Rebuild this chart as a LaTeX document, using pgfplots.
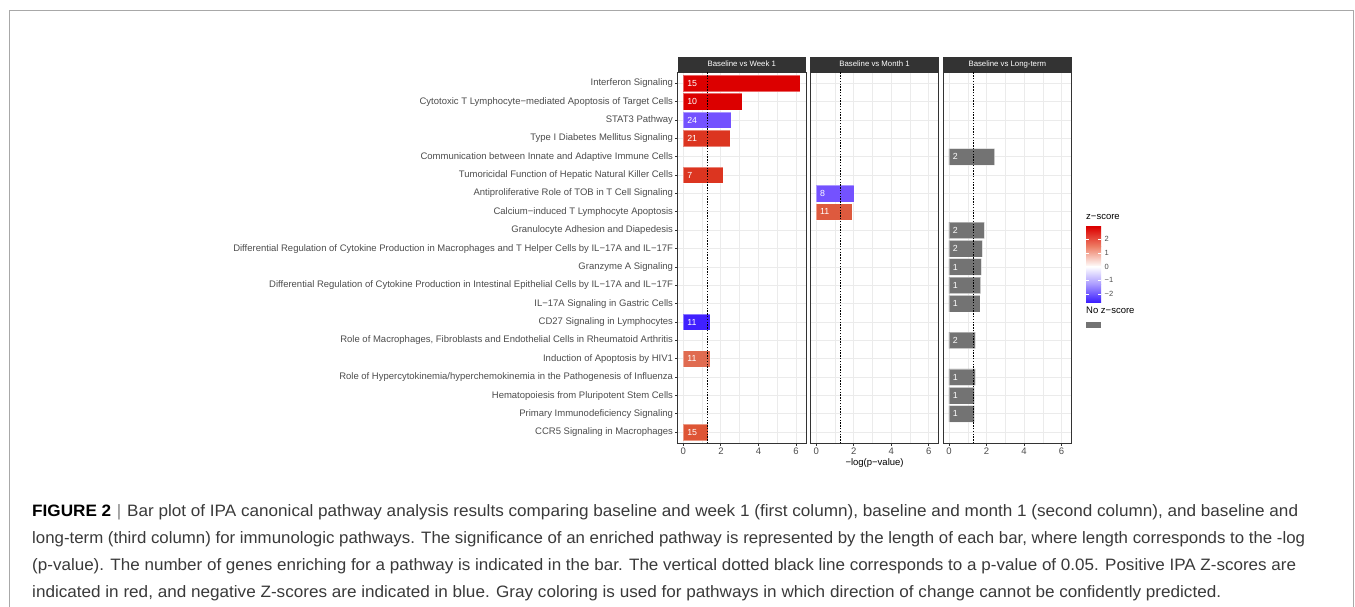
\documentclass[border=0pt]{standalone}
\usepackage{pgfplots}
\pgfplotsset{compat=1.18}
\usepackage{fontspec}
\setmainfont{Liberation Sans}
\newfontfamily\capfont{Liberation Sans}
\usepackage{graphicx}
\definecolor{g20}{HTML}{333333}
\definecolor{g30}{HTML}{4D4D4D}
\definecolor{g92}{HTML}{EBEBEB}
\definecolor{zr}{HTML}{DC0000}
\definecolor{zrb}{HTML}{DC3520}
\definecolor{zrc}{HTML}{DE5535}
\definecolor{zrd}{HTML}{DE5A3E}
\definecolor{zre}{HTML}{E06B50}
\definecolor{zb}{HTML}{4020FF}
\definecolor{zbb}{HTML}{7452FF}
\definecolor{nz}{HTML}{737373}
\definecolor{framec}{HTML}{A8A8A8}
\definecolor{captext}{HTML}{3A3A3A}
\newcommand{\axfont}{\fontsize{9.5}{10}\selectfont}
\pgfplotsset{
  panel/.style={
    scale only axis, width=128.5pt, height=371pt,
    xmin=-0.311, xmax=6.531, ymin=0.4, ymax=20.6,
    axis line style={draw=g20, line width=0.9pt},
    xtick={0,2,4,6}, minor xtick={1,3,5},
    ytick={1,...,20},
    grid=both,
    major grid style={draw=g92, line width=0.9pt},
    minor grid style={draw=g92, line width=0.45pt},
    tick align=outside, major tick length=2.4pt, minor tick length=0pt,
    tick style={draw=g20, line width=0.9pt},
    xtick pos=lower, ytick pos=left,
    tick label style={font=\axfont, text=g30},
    xticklabel style={inner sep=0pt, yshift=-1.9pt},
    yticklabel style={inner sep=0pt, xshift=-1.9pt},
    /pgf/number format/assume math mode=true,
    every axis title/.style={at={(0.5,1)}, anchor=south, fill=g20, text=white, minimum width=128.5pt, minimum height=15pt, inner sep=0pt, text height=5.8pt, text depth=1.5pt, font=\fontsize{7.8}{8}\selectfont},
  },
  bar/.style={xbar, bar shift=0pt, bar width=16.5pt, fill=#1, draw=white, draw opacity=0.4, line width=0.5pt},
  lab/.style={draw=none, mark=none, nodes near coords, point meta=explicit symbolic, every node near coord/.append style={anchor=west, inner sep=0pt, text=white, font=\fontsize{8.8}{9}\selectfont}},
  pline/.style={black, line width=0.8pt, dash pattern=on 1.4pt off 1.4pt},
}
\begin{document}
\begin{tikzpicture}
\useasboundingbox (0,0) rectangle (1355pt,-606pt);
\fill[white] (0,0) rectangle (1355pt,-606pt);
\draw[framec, line width=1pt] (9pt,-620pt) -- (9pt,-10.3pt) -- (1353.7pt,-10.3pt) -- (1353.7pt,-620pt);

% Panel 1
\begin{axis}[panel, at={(677.5pt,-443.3pt)}, anchor=south west,
  title={Baseline vs Week 1},
  yticklabels={
    {CCR5 Signaling in Macrophages},
    {Primary Immunodeficiency Signaling},
    {Hematopoiesis from Pluripotent Stem Cells},
    {Role of Hypercytokinemia/hyperchemokinemia in the Pathogenesis of Influenza},
    {Induction of Apoptosis by HIV1},
    {Role of Macrophages, Fibroblasts and Endothelial Cells in Rheumatoid Arthritis},
    {CD27 Signaling in Lymphocytes},
    {IL−17A Signaling in Gastric Cells\hspace{3.5pt}},
    {Differential Regulation of Cytokine Production in Intestinal Epithelial Cells by IL−17A and IL−17F\hspace{3.5pt}},
    {Granzyme A Signaling},
    {Differential Regulation of Cytokine Production in Macrophages and T Helper Cells by IL−17A and IL−17F\hspace{3.5pt}},
    {Granulocyte Adhesion and Diapedesis},
    {Calcium−induced T Lymphocyte Apoptosis},
    {Antiproliferative Role of TOB in T Cell Signaling},
    {Tumoricidal Function of Hepatic Natural Killer Cells},
    {Communication between Innate and Adaptive Immune Cells},
    {Type I Diabetes Mellitus Signaling},
    {STAT3 Pathway},
    {Cytotoxic T Lymphocyte−mediated Apoptosis of Target Cells},
    {Interferon Signaling}},
]
\addplot[bar=zr]  coordinates {(6.22,20)};
\addplot[bar=zr]  coordinates {(3.11,19)};
\addplot[bar=zbb] coordinates {(2.54,18)};
\addplot[bar=zrb] coordinates {(2.50,17)};
\addplot[bar=zrb] coordinates {(2.13,15)};
\addplot[bar=zb]  coordinates {(1.44,7)};
\addplot[bar=zre] coordinates {(1.41,5)};
\addplot[bar=zrc] coordinates {(1.31,1)};
\addplot[pline] coordinates {(1.301,0.4) (1.301,20.6)};
\addplot[lab] coordinates {(0.2,20) [15] (0.2,19) [10] (0.2,18) [24] (0.2,17) [21] (0.2,15) [7] (0.2,7) [11] (0.2,5) [11] (0.2,1) [15]};
\end{axis}

% Panel 2
\begin{axis}[panel, at={(810.3pt,-443.3pt)}, anchor=south west,
  title={Baseline vs Month 1}, ymajorticks=false,
  xlabel={−log(p−value)},
  xlabel style={at={(axis description cs:0.5,0)}, anchor=center, yshift=-20pt, font=\axfont, text=black},
]
\addplot[bar=zbb] coordinates {(2.02,14)};
\addplot[bar=zrd] coordinates {(1.90,13)};
\addplot[pline] coordinates {(1.301,0.4) (1.301,20.6)};
\addplot[lab] coordinates {(0.2,14) [8] (0.2,13) [11]};
\end{axis}

% Panel 3
\begin{axis}[panel, at={(943.1pt,-443.3pt)}, anchor=south west,
  title={Baseline vs Long-term}, ymajorticks=false,
]
\addplot[bar=nz] coordinates {(2.43,16) (1.89,12) (1.78,11) (1.73,10) (1.68,9) (1.64,8) (1.41,6) (1.41,4) (1.36,3) (1.36,2)};
\addplot[pline] coordinates {(1.301,0.4) (1.301,20.6)};
\addplot[lab] coordinates {(0.2,16) [2] (0.2,12) [2] (0.2,11) [2] (0.2,10) [1] (0.2,9) [1] (0.2,8) [1] (0.2,6) [2] (0.2,4) [1] (0.2,3) [1] (0.2,2) [1]};
\end{axis}

% Legend
\node[anchor=west, inner sep=0pt, font=\axfont] at (1086pt,-216.7pt) {z−score};
\shade[top color=zr, bottom color={rgb,255:red,238;green,128;blue,104}] (1086pt,-226.7pt) rectangle (1101pt,-246.9pt);
\shade[top color={rgb,255:red,238;green,128;blue,104}, bottom color=white] (1086pt,-246.8pt) rectangle (1101pt,-266.7pt);
\shade[top color=white, bottom color={rgb,255:red,168;green,152;blue,255}] (1086pt,-266.7pt) rectangle (1101pt,-284.5pt);
\shade[top color={rgb,255:red,168;green,152;blue,255}, bottom color={rgb,255:red,59;green,30;blue,255}] (1086pt,-284.4pt) rectangle (1101pt,-302.3pt);
\foreach \yy/\tl in {239.3/2, 253/1, 266.7/0, 280.4/−1, 294.1/−2} {
  \draw[white, line width=0.5pt] (1086pt,-\yy pt) -- (1089pt,-\yy pt);
  \draw[white, line width=0.5pt] (1098pt,-\yy pt) -- (1101pt,-\yy pt);
  \node[anchor=west, inner sep=0pt, font=\fontsize{7.5}{8}\selectfont, text=g30] at (1104.5pt,-\yy pt) {\tl};
}
\node[anchor=west, inner sep=0pt, font=\axfont] at (1086pt,-310pt) {No z−score};
\fill[nz] (1086pt,-321.7pt) rectangle (1101pt,-328.3pt);

% Caption
\node[anchor=base west, inner sep=0pt] at (32pt,-516pt) {\resizebox{1266pt}{\height}{\capfont\fontsize{16.5}{20}\selectfont\textcolor{black}{\bfseries FIGURE 2}\textcolor{gray}{\,\,|\,\,}\textcolor{captext}{Bar plot of IPA canonical pathway analysis results comparing baseline and week 1 (first column), baseline and month 1 (second column), and baseline and}}};
\node[anchor=base west, inner sep=0pt] at (32pt,-543pt) {\resizebox{1273pt}{\height}{\capfont\fontsize{16.5}{20}\selectfont\textcolor{captext}{long-term (third column) for immunologic pathways. The significance of an enriched pathway is represented by the length of each bar, where length corresponds to the -log}}};
\node[anchor=base west, inner sep=0pt] at (32pt,-570pt) {\resizebox{1264pt}{\height}{\capfont\fontsize{16.5}{20}\selectfont\textcolor{captext}{(p-value). The number of genes enriching for a pathway is indicated in the bar. The vertical dotted black line corresponds to a p-value of 0.05. Positive IPA Z-scores are}}};
\node[anchor=base west, inner sep=0pt] at (32pt,-597pt) {\resizebox{1189pt}{\height}{\capfont\fontsize{16.5}{20}\selectfont\textcolor{captext}{indicated in red, and negative Z-scores are indicated in blue. Gray coloring is used for pathways in which direction of change cannot be confidently predicted.}}};
\end{tikzpicture}
\end{document}
